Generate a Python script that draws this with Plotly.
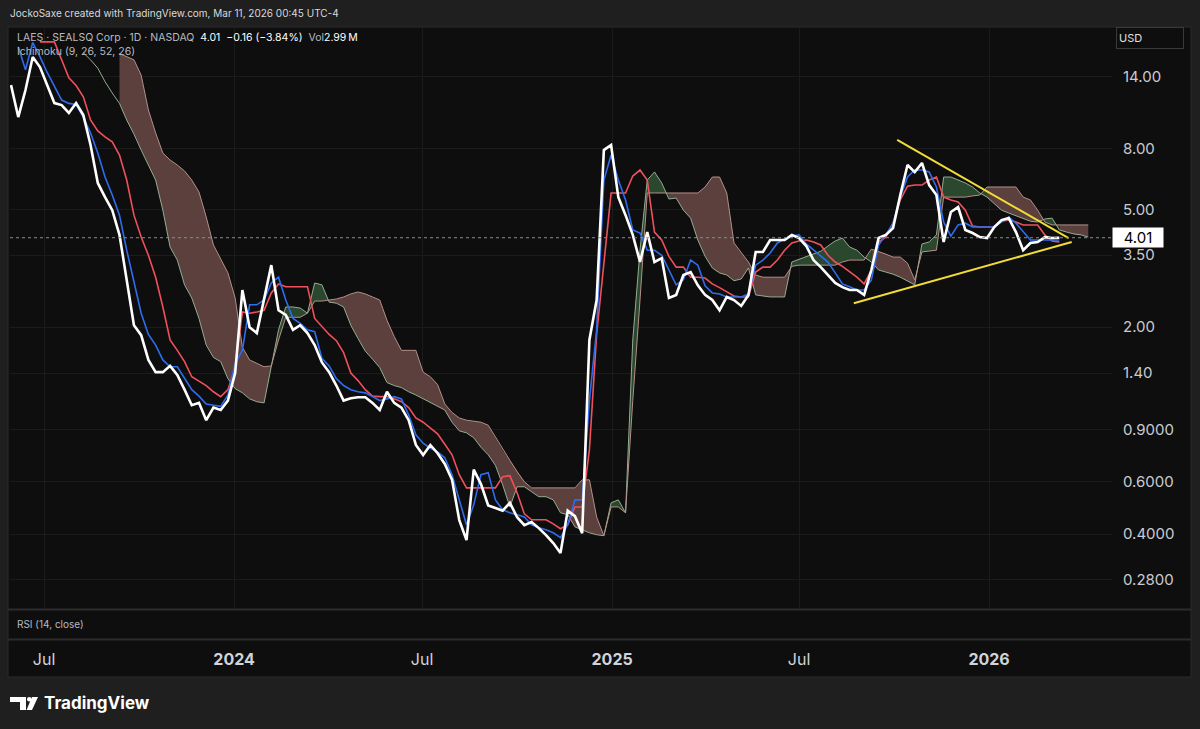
import math
import plotly.graph_objects as go
import pandas as pd

# ---------------- data (weekly samples) ----------------
dates = pd.date_range("2023-05-30", periods=150, freq="7D")

close = [13.15, 10.25, 12.65, 16.35, 15.13, 13.15, 11.43, 11.25, 10.58, 11.43,
         10.41, 8.25, 6.14, 5.50, 4.97, 4.10, 2.89, 2.03, 1.88, 1.55,
         1.41, 1.41, 1.48, 1.38, 1.23, 1.09, 1.11, 0.97, 1.07, 1.05,
         1.13, 1.40, 2.67, 2.00, 1.91, 2.47, 3.24, 2.28, 2.20, 1.96,
         2.03, 1.91, 1.74, 1.52, 1.41, 1.27, 1.13, 1.15, 1.16, 1.16,
         1.11, 1.05, 1.21, 1.11, 1.07, 0.97, 0.80, 0.74, 0.80, 0.75,
         0.69, 0.61, 0.446, 0.382, 0.66, 0.59, 0.50, 0.49, 0.48, 0.51,
         0.456, 0.429, 0.439, 0.419, 0.397, 0.373, 0.345, 0.48, 0.46, 0.403,
         1.81, 2.47, 7.93, 8.25, 5.50, 4.78, 4.10, 3.32, 4.19, 3.32,
         3.42, 2.51, 2.57, 3.00, 3.07, 2.77, 2.57, 2.47, 2.28, 2.53,
         2.47, 2.36, 2.57, 3.59, 3.59, 3.94, 3.94, 3.94, 4.10, 4.00,
         3.76, 3.37, 3.19, 3.00, 2.82, 2.73, 2.67, 2.67, 2.57, 3.12,
         4.00, 4.10, 4.32, 5.59, 7.06, 6.68, 7.17, 6.04, 5.59, 3.88,
         4.90, 5.09, 4.26, 4.16, 4.03, 4.00, 4.36, 4.60, 4.67, 4.19,
         3.64, 3.85, 3.88, 4.03, 4.00, 4.01]

conversion_line = [None, 17.7, 14.8, 18.3, 16.4, 14.5, 13.0, 11.7, 11.4, 11.3,
                   10.25, 9.06, 7.75, 6.43, 5.59, 4.78, 3.64, 2.85, 2.23, 1.89,
                   1.74, 1.55, 1.47, 1.47, 1.35, 1.23, 1.17, 1.10, 1.09, 1.08,
                   1.18, 1.51, 1.67, 2.38, 2.38, 2.47, 2.82, 2.95, 2.47, 2.14,
                   2.06, 1.96, 1.93, 1.57, 1.48, 1.34, 1.27, 1.23, 1.21, 1.20,
                   1.165, 1.13, 1.145, 1.165, 1.145, 1.01, 0.866, 0.811, 0.780, 0.758,
                   0.724, 0.635, 0.522, 0.430, 0.502, 0.635, 0.645, 0.522, 0.483, 0.472,
                   0.465, 0.457, 0.430, 0.420, 0.414, 0.404, 0.389, 0.430, 0.522, 0.522,
                   1.13, 1.96, 6.28, 7.63, 6.28, 5.38, 4.26, 4.16, 3.64, 3.64,
                   3.50, 3.12, 2.78, 2.89, 3.37, 3.24, 2.76, 2.61, 2.59, 2.53,
                   2.53, 2.53, 2.59, 3.24, 3.37, 3.56, 3.85, 3.97, 4.06, 4.10,
                   3.82, 3.64, 3.47, 3.32, 3.05, 2.80, 2.74, 2.67, 2.67, 2.89,
                   3.79, 4.10, 4.49, 5.50, 6.43, 6.79, 6.79, 6.69, 5.95, 4.53,
                   4.06, 4.43, 4.49, 4.36, 4.36, 4.36, 4.36, 4.53, 4.71, 4.49,
                   4.19, 3.94, 3.94, 3.94, 3.94, 3.94]

base_line = [None, None, None, None, 18.4, 18.4, 18.4, 16.0, 13.9, 13.1,
             12.0, 10.02, 9.20, 8.78, 8.45, 7.63, 6.28, 4.78, 4.03, 3.50,
             2.95, 2.34, 1.81, 1.67, 1.53, 1.36, 1.31, 1.27, 1.21, 1.165,
             1.23, 1.46, 2.25, 2.23, 2.25, 2.28, 2.61, 2.80, 2.74, 2.74,
             2.74, 2.74, 2.14, 2.01, 1.89, 1.80, 1.64, 1.40, 1.32, 1.23,
             1.17, 1.165, 1.165, 1.145, 1.12, 1.07, 0.987, 0.955, 0.912, 0.872,
             0.804, 0.741, 0.635, 0.573, 0.573, 0.573, 0.573, 0.573, 0.625, 0.630,
             0.552, 0.468, 0.447, 0.447, 0.447, 0.433, 0.417, 0.430, 0.494, 0.494,
             0.77, 1.89, 3.37, 5.68, 5.68, 5.68, 6.48, 6.79, 6.28, 4.19,
             3.94, 3.47, 3.19, 3.19, 2.95, 2.95, 2.93, 2.80, 2.72, 2.63,
             2.55, 2.53, 2.53, 3.07, 3.19, 3.19, 3.37, 3.64, 3.85, 3.91,
             3.94, 3.88, 3.79, 3.50, 3.32, 3.21, 3.07, 2.95, 2.80, 3.12,
             3.88, 4.03, 4.49, 5.38, 5.99, 6.04, 6.04, 6.28, 6.43, 5.50,
             5.38, 5.30, 4.97, 4.39, 4.36, 4.36, 4.36, 4.56, 4.60, 4.53,
             4.43, 4.43, 4.43, 4.10, 3.91, 3.88]

lead_a = [None] * 10 + [
    16.9, 16.0, 15.0, 13.5, 12.36, 11.4, 10.02, 8.98, 7.93, 7.06,
    6.28, 4.97, 3.73, 3.37, 2.78, 2.51, 2.14, 1.74, 1.58, 1.53,
    1.34, 1.24, 1.20, 1.145, 1.12, 1.11, 1.47, 1.96, 2.34, 2.34,
    2.32, 2.23, 2.82, 2.78, 2.43, 2.41, 2.34, 2.03, 1.83, 1.66,
    1.56, 1.46, 1.30, 1.27, 1.25, 1.21, 1.18, 1.145, 1.11, 1.08,
    1.05, 0.955, 0.893, 0.879, 0.846, 0.786, 0.741, 0.683, 0.587, 0.494,
    0.578, 0.578, 0.557, 0.535, 0.535, 0.522, 0.472, 0.465, 0.423, 0.414,
    0.404, 0.398, 0.395, 0.510, 0.522, 0.472, 1.81, 3.64, 6.28, 6.69,
    6.14, 5.42, 5.46, 4.97, 4.67, 3.94, 3.47, 3.17, 3.05, 3.00,
    2.87, 2.91, 3.17, 2.57, 2.55, 2.53, 2.53, 2.53, 3.32, 3.39,
    3.47, 3.53, 3.61, 3.76, 3.91, 4.00, 3.73, 3.64, 3.45, 3.32,
    3.12, 3.07, 3.02, 2.95, 2.87, 2.78, 3.82, 3.88, 4.10, 6.43,
    6.43, 6.28, 6.14, 5.95, 5.68, 5.50, 5.21, 4.97, 4.86, 4.75,
    4.64, 4.56, 4.53, 4.64, 4.67, 4.26, 4.19, 4.13, 4.10, 4.03]

lead_b = [None] * 15 + [
    16.8, 16.4, 16.0, 14.2, 10.83,
    9.06, 7.75, 7.34, 7.06, 6.74, 6.28, 5.72, 4.71, 3.79, 3.42,
    3.05, 2.51, 1.71, 1.55, 1.51, 1.47, 1.48, 1.81, 2.16, 2.16,
    2.16, 2.23, 2.45, 2.45, 2.47, 2.49, 2.53, 2.59, 2.63, 2.59,
    2.53, 2.47, 2.11, 1.86, 1.67, 1.67, 1.67, 1.41, 1.36, 1.28,
    1.10, 1.03, 0.987, 0.97, 0.962, 0.955, 0.933, 0.852, 0.77, 0.71,
    0.650, 0.601, 0.573, 0.573, 0.573, 0.573, 0.573, 0.573, 0.573, 0.61,
    0.61, 0.457, 0.395, 0.494, 0.494, 0.472, 1.13, 2.47, 5.68, 5.68,
    5.68, 5.68, 5.68, 5.68, 5.68, 5.68, 5.95, 6.43, 6.43, 5.68,
    3.85, 3.56, 3.32, 3.00, 2.95, 2.95, 2.95, 2.95, 3.21, 3.24,
    3.24, 3.24, 3.24, 3.24, 3.24, 3.32, 3.37, 3.37, 3.37, 3.67,
    3.61, 3.53, 3.45, 3.45, 3.29, 2.89, 3.59, 3.61, 3.64, 5.50,
    5.50, 5.50, 5.50, 5.55, 5.59, 5.95, 5.95, 5.95, 5.95, 5.95,
    5.50, 5.38, 4.97, 4.53, 4.43, 4.43, 4.43, 4.43, 4.43, 4.43]

# drawn trendlines (date, price)
upper_trend_dates = ["2025-10-04", "2026-03-19"]
upper_trend_prices = [8.58, 4.00]
lower_trend_dates = ["2025-08-23", "2026-03-22"]
lower_trend_prices = [2.41, 3.88]

y_tick_vals = [14, 8, 5, 3.5, 2, 1.4, 0.9, 0.6, 0.4, 0.28]
y_tick_text = ["14.00", "8.00", "5.00", "3.50", "2.00", "1.40", "0.9000", "0.6000", "0.4000", "0.2800"]
x_tick_vals = ["2023-07-01", "2024-01-01", "2024-07-01", "2025-01-01", "2025-07-01", "2026-01-01"]
x_tick_text = ["Jul", "<b>2024</b>", "Jul", "<b>2025</b>", "Jul", "<b>2026</b>"]

# ---------------- layout helpers (pixel -> paper) ----------------
L, R, T, B = 10, 1112, 27, 609
def px_x(px):
    return (px - L) / (R - L)
def px_y(py):
    return (B - py) / (B - T)

FONT = "Inter, Roboto, sans-serif"
GREEN_FILL = "#2b472d"
BROWN_FILL = "#5b403d"

fig = go.Figure()

# ---- cloud fills, split by which span is on top ----
n = len(lead_a)
idx = [i for i in range(n) if lead_a[i] is not None and lead_b[i] is not None]
groups = []
cur = None
for i in idx:
    s = lead_a[i] >= lead_b[i]
    if cur is None or cur[0] != s:
        cur = [s, i, i]
        groups.append(cur)
    else:
        cur[2] = i
last = idx[-1]
for s, a, e in groups:
    e2 = min(e + 1, last)
    xs = list(dates[a:e2 + 1]) + list(dates[a:e2 + 1])[::-1]
    ys = lead_a[a:e2 + 1] + lead_b[a:e2 + 1][::-1]
    fig.add_trace(go.Scatter(x=xs, y=ys, fill="toself", mode="lines",
                             line=dict(width=0), fillcolor=GREEN_FILL if s else BROWN_FILL,
                             hoverinfo="skip", showlegend=False))

fig.add_trace(go.Scatter(x=dates[:len(lead_a)], y=lead_a, mode="lines",
                         line=dict(color="#93ad92", width=1), showlegend=False))
fig.add_trace(go.Scatter(x=dates[:len(lead_b)], y=lead_b, mode="lines",
                         line=dict(color="#b58f89", width=1), showlegend=False))
fig.add_trace(go.Scatter(x=dates[:len(base_line)], y=base_line, mode="lines",
                         line=dict(color="#f0505c", width=1.6), showlegend=False))
fig.add_trace(go.Scatter(x=dates[:len(conversion_line)], y=conversion_line, mode="lines",
                         line=dict(color="#2f6df0", width=1.6), showlegend=False))
fig.add_trace(go.Scatter(x=dates[:len(close)], y=close, mode="lines",
                         line=dict(color="#ffffff", width=2.6), showlegend=False))
fig.add_trace(go.Scatter(x=upper_trend_dates, y=upper_trend_prices, mode="lines",
                         line=dict(color="#f2dc3a", width=2), showlegend=False))
fig.add_trace(go.Scatter(x=lower_trend_dates, y=lower_trend_prices, mode="lines",
                         line=dict(color="#f2dc3a", width=2), showlegend=False))

shapes = [
    # chart panel background
    dict(type="rect", xref="paper", yref="paper", x0=px_x(8), x1=px_x(1191),
         y0=px_y(677), y1=px_y(27), fillcolor="#0e0e0e", line=dict(color="#2a2a2a", width=1),
         layer="below"),
    # pane separators
    dict(type="line", xref="paper", yref="paper", x0=px_x(8), x1=px_x(1191),
         y0=px_y(609.5), y1=px_y(609.5), line=dict(color="#2c2c2c", width=2)),
    dict(type="line", xref="paper", yref="paper", x0=px_x(8), x1=px_x(1191),
         y0=px_y(639.5), y1=px_y(639.5), line=dict(color="#2c2c2c", width=2)),
    # last price dotted line
    dict(type="line", xref="paper", yref="y", x0=0, x1=1, y0=close[-1], y1=close[-1],
         line=dict(color="#8a8d95", width=1, dash="dot")),
    # TradingView logo pieces
    dict(type="rect", xref="paper", yref="paper", x0=px_x(10), x1=px_x(26),
         y0=px_y(702), y1=px_y(697), fillcolor="#ffffff", line=dict(width=0)),
    dict(type="rect", xref="paper", yref="paper", x0=px_x(20), x1=px_x(26),
         y0=px_y(710), y1=px_y(697), fillcolor="#ffffff", line=dict(width=0)),
    dict(type="circle", xref="paper", yref="paper", x0=px_x(27), x1=px_x(31.5),
         y0=px_y(701.5), y1=px_y(697), fillcolor="#ffffff", line=dict(width=0)),
    dict(type="path", xref="paper", yref="paper",
         path=f"M {px_x(32)} {px_y(697)} L {px_x(38)} {px_y(697)} L {px_x(32)} {px_y(710)} "
              f"L {px_x(26.5)} {px_y(710)} Z",
         fillcolor="#ffffff", line=dict(width=0)),
]

annotations = [
    dict(x=px_x(8), y=px_y(13), xref="paper", yref="paper", xanchor="left", yanchor="middle",
         text="JockoSaxe created with TradingView.com, Mar 11, 2026 00:45 UTC-4",
         showarrow=False, font=dict(family=FONT, size=10, color="#d8d9dd")),
    dict(x=px_x(15), y=px_y(37), xref="paper", yref="paper", xanchor="left", yanchor="middle",
         text="LAES · SEALSQ Corp · 1D · NASDAQ&nbsp;&nbsp;<span style='color:#ffffff'>4.01&nbsp;&nbsp;"
              "−0.16 (−3.84%)</span>&nbsp;&nbsp;Vol<span style='color:#ffffff'>2.99\u2009M</span>",
         showarrow=False, font=dict(family=FONT, size=10.5, color="#b8bac0")),
    dict(x=px_x(15), y=px_y(52), xref="paper", yref="paper", xanchor="left", yanchor="middle",
         text="Ichimoku (9, 26, 52, 26)", showarrow=False,
         font=dict(family=FONT, size=10.5, color="#b8bac0")),
    dict(x=px_x(15), y=px_y(624), xref="paper", yref="paper", xanchor="left", yanchor="middle",
         text="RSI (14, close)", showarrow=False, font=dict(family=FONT, size=10, color="#b8bac0")),
    dict(x=px_x(1116), y=px_y(38), xref="paper", yref="paper", xanchor="left", yanchor="middle",
         text="USD", showarrow=False, align="left", width=62, height=16,
         bordercolor="#3a3a3a", borderwidth=1, borderpad=2,
         font=dict(family=FONT, size=11, color="#e0e0e0")),
    # last-price label (log axis: annotation y given as log10 of the price)
    dict(x=1.0, y=math.log10(close[-1]), xref="paper", yref="y", xanchor="left", yanchor="middle",
         text="4.01", showarrow=False, bgcolor="#ffffff", width=48, height=17, borderpad=1,
         font=dict(family=FONT, size=15, color="#000000")),
    dict(x=px_x(42), y=px_y(703), xref="paper", yref="paper", xanchor="left", yanchor="middle",
         text="<b>TradingView</b>", showarrow=False,
         font=dict(family=FONT, size=17, color="#ffffff")),
]

fig.update_layout(
    width=1200, height=729,
    margin=dict(l=L, r=1200 - R, t=T, b=729 - B),
    paper_bgcolor="#1f1f1f", plot_bgcolor="#0e0e0e",
    showlegend=False,
    shapes=shapes, annotations=annotations,
    xaxis=dict(type="date", range=["2023-05-29", "2026-04-30"],
               tickvals=x_tick_vals, ticktext=x_tick_text,
               showgrid=True, gridcolor="#1b1b1b", gridwidth=1, zeroline=False, showline=False,
               ticks="", ticklabelstandoff=39,
               tickfont=dict(family=FONT, size=16, color="#d1d3d8")),
    yaxis=dict(type="log", range=[-0.651, 1.315], side="right",
               tickvals=y_tick_vals, ticktext=y_tick_text,
               showgrid=True, gridcolor="#1b1b1b", gridwidth=1, zeroline=False, showline=False,
               ticks="", ticklabelstandoff=10,
               tickfont=dict(family=FONT, size=15, color="#c9cbd1")),
    hovermode=False,
)

fig.write_html("out.html",
               config={"displayModeBar": False},
               post_script="document.body.style.margin='0';"
                           "document.body.style.background='#1f1f1f';")
